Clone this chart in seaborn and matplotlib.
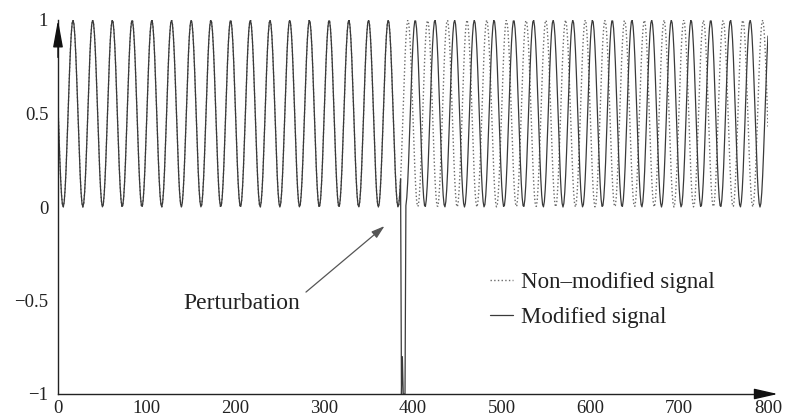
import numpy as np
import pandas as pd
import matplotlib
matplotlib.use("Agg")
import matplotlib.pyplot as plt
import seaborn as sns

# ---- values ----
x_samples = np.arange(0, 801)          # sample index 0..800
period = 22.2                          # oscillation period (samples)
first_peak = 16.9                      # first peak of both signals
shift_after = 8.2                      # delay of modified signal after perturbation
pert_start, pert_end = 387, 391        # perturbation samples
pert_values = [-1.0, -0.8, -1.0, -1.0, -1.0]  # modified signal during perturbation
x_ticks = [0, 100, 200, 300, 400, 500, 600, 700, 800]
y_ticks = [-1, -0.5, 0, 0.5, 1]
y_ticklabels = ["\u22121", "\u22120.5", "0", "0.5", "1"]
labels = ["Non\u2013modified signal", "Modified signal"]

# ---- signals ----
nonmod = 0.5 + 0.5 * np.cos(2 * np.pi * (x_samples - first_peak) / period)
shifted = 0.5 + 0.5 * np.cos(2 * np.pi * (x_samples - first_peak - shift_after) / period)
modified = np.where(x_samples < pert_start, nonmod, shifted).astype(float)
modified[pert_start:pert_end + 1] = pert_values

df = pd.DataFrame({"x": x_samples, "nonmod": nonmod, "mod": modified})

sns.set_style("white")
plt.rcParams["font.family"] = ["Liberation Serif", "DejaVu Serif"]

fig = plt.figure(figsize=(7.87, 4.16), dpi=100)
ax = fig.add_axes([58 / 787, 22 / 416, 710 / 787, 374 / 416])

sns.lineplot(data=df, x="x", y="nonmod", ax=ax, color="#6a6a6a", linestyle=":",
             linewidth=1.0, estimator=None, sort=False, label=labels[0])
sns.lineplot(data=df, x="x", y="mod", ax=ax, color="#3a3a3a", linestyle="-",
             linewidth=0.9, estimator=None, sort=False, label=labels[1])

ax.set_xlim(0, 800)
ax.set_ylim(-1, 1)
ax.set_xlabel("")
ax.set_ylabel("")
ax.set_xticks(x_ticks)
ax.set_xticklabels([str(v) for v in x_ticks])
ax.set_yticks(y_ticks)
ax.set_yticklabels(y_ticklabels)
for s in ["top", "right"]:
    ax.spines[s].set_visible(False)
for s in ["left", "bottom"]:
    ax.spines[s].set_color("#222222")
    ax.spines[s].set_linewidth(1.0)
ax.tick_params(axis="both", direction="in", length=5, width=0.8, colors="#222222",
               labelsize=13.5, labelcolor="#222222")
ax.tick_params(axis="x", pad=4)
ax.tick_params(axis="y", pad=7)

# axis arrows
ax.annotate("", xy=(811, -1), xytext=(785, -1), xycoords="data",
            arrowprops=dict(arrowstyle="-|>,head_length=1.45,head_width=0.33",
                            mutation_scale=10, color="#111111", lw=1.0,
                            shrinkA=0, shrinkB=0),
            annotation_clip=False)
ax.annotate("", xy=(0, 1), xytext=(0, 0.8), xycoords="data",
            arrowprops=dict(arrowstyle="-|>,head_length=1.65,head_width=0.3",
                            mutation_scale=10, color="#111111", lw=1.0,
                            shrinkA=0, shrinkB=0),
            annotation_clip=False)

# perturbation annotation
ax.text(273, -0.545, "Perturbation", ha="right", va="baseline", fontsize=17,
        color="#222222")
ax.annotate("", xy=(367.9, -0.102), xytext=(279.4, -0.455),
            arrowprops=dict(arrowstyle="-|>,head_length=0.8,head_width=0.25",
                            mutation_scale=10, color="#555555", lw=0.9,
                            shrinkA=0, shrinkB=0))

leg = ax.legend(loc="center left", bbox_to_anchor=(490 / 787, (416 - 300) / 416),
                bbox_transform=fig.transFigure, frameon=False, fontsize=16.5,
                handlelength=1.0, handletextpad=0.35, labelspacing=0.62,
                borderpad=0, borderaxespad=0)
for t in leg.get_texts():
    t.set_color("#222222")

fig.savefig("out.png", dpi=100)
